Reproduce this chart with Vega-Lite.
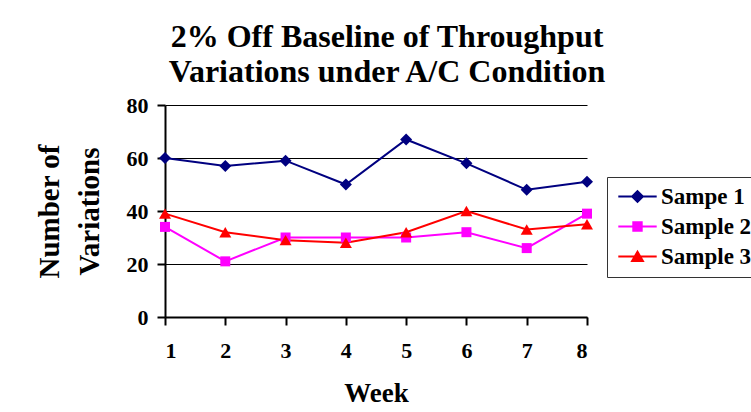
{
  "$schema": "https://vega.github.io/schema/vega-lite/v6.json",
  "width": 422,
  "height": 212,
  "autosize": {"type": "none"},
  "padding": {"left": 165, "top": 105, "right": 164, "bottom": 95},
  "background": "white",
  "title": {
    "text": ["2% Off Baseline of Throughput", "Variations under A/C Condition"],
    "font": "Liberation Serif",
    "fontSize": 32,
    "fontWeight": "bold",
    "color": "black",
    "lineHeight": 35,
    "anchor": "middle",
    "frame": "group",
    "dx": 11,
    "offset": 5
  },
  "config": {
    "view": {"stroke": null},
    "axis": {
      "labelFont": "Liberation Serif",
      "labelFontWeight": "bold",
      "labelColor": "black",
      "titleFont": "Liberation Serif",
      "titleFontWeight": "bold",
      "titleColor": "black",
      "domainColor": "black",
      "domainWidth": 2,
      "tickColor": "black",
      "tickWidth": 2,
      "tickSize": 8
    }
  },
  "data": {
    "values": [
      {"week": 1, "series": "Sampe 1", "count": 60},
      {"week": 2, "series": "Sampe 1", "count": 57},
      {"week": 3, "series": "Sampe 1", "count": 59},
      {"week": 4, "series": "Sampe 1", "count": 50},
      {"week": 5, "series": "Sampe 1", "count": 67},
      {"week": 6, "series": "Sampe 1", "count": 58},
      {"week": 7, "series": "Sampe 1", "count": 48},
      {"week": 8, "series": "Sampe 1", "count": 51},
      {"week": 1, "series": "Sample 2", "count": 34},
      {"week": 2, "series": "Sample 2", "count": 21},
      {"week": 3, "series": "Sample 2", "count": 30},
      {"week": 4, "series": "Sample 2", "count": 30},
      {"week": 5, "series": "Sample 2", "count": 30},
      {"week": 6, "series": "Sample 2", "count": 32},
      {"week": 7, "series": "Sample 2", "count": 26},
      {"week": 8, "series": "Sample 2", "count": 39},
      {"week": 1, "series": "Sample 3", "count": 39},
      {"week": 2, "series": "Sample 3", "count": 32},
      {"week": 3, "series": "Sample 3", "count": 29},
      {"week": 4, "series": "Sample 3", "count": 28},
      {"week": 5, "series": "Sample 3", "count": 32},
      {"week": 6, "series": "Sample 3", "count": 40},
      {"week": 7, "series": "Sample 3", "count": 33},
      {"week": 8, "series": "Sample 3", "count": 35}
    ]
  },
  "encoding": {
    "x": {
      "field": "week",
      "type": "quantitative",
      "scale": {"domain": [1, 8], "nice": false, "zero": false},
      "axis": {
        "values": [1, 2, 3, 4, 5, 6, 7, 8],
        "format": "d",
        "grid": false,
        "labelFontSize": 22,
        "labelPadding": 15,
        "title": "Week",
        "titleFontSize": 27,
        "titleBaseline": "alphabetic",
        "titleY": 84
      }
    },
    "y": {
      "field": "count",
      "type": "quantitative",
      "scale": {"domain": [0, 80], "nice": false},
      "axis": {
        "values": [0, 20, 40, 60, 80],
        "grid": true,
        "gridColor": "black",
        "gridWidth": 1,
        "labelFontSize": 22,
        "labelPadding": 9,
        "title": ["Number of", "Variations"],
        "titleFontSize": 29,
        "titleLineHeight": 40,
        "titleAngle": -90,
        "titleAlign": "center",
        "titleBaseline": "alphabetic",
        "titleX": -107,
        "titleY": 106
      }
    },
    "color": {
      "field": "series",
      "type": "nominal",
      "scale": {
        "domain": ["Sampe 1", "Sample 2", "Sample 3"],
        "range": ["#000080", "#FF00FF", "#FF0000"]
      },
      "legend": {
        "title": null,
        "orient": "none",
        "legendX": 442,
        "legendY": 72,
        "strokeColor": "#333333",
        "fillColor": "white",
        "padding": 8,
        "symbolSize": 144,
        "symbolOffset": 11,
        "symbolStrokeWidth": 2,
        "labelFont": "Liberation Serif",
        "labelFontSize": 23,
        "labelFontWeight": "bold",
        "labelColor": "black",
        "labelOffset": 12,
        "rowPadding": 6,
        "encode": {
          "symbols": {
            "update": {
              "shape": {"signal": "datum.value === 'Sampe 1' ? 'M-3.2,0H3.2M0,-0.9L0.9,0L0,0.9L-0.9,0Z' : datum.value === 'Sample 2' ? 'M-3.2,0H3.2M-0.7,-0.7H0.7V0.7H-0.7Z' : 'M-3.2,0H3.2M0,-0.8L0.9,0.75L-0.9,0.75Z'"},
              "fill": {"signal": "scale('color', datum.value)"},
              "stroke": {"signal": "scale('color', datum.value)"},
              "strokeWidth": {"value": 2},
              "opacity": {"value": 1}
            }
          }
        }
      }
    }
  },
  "layer": [
    {"mark": {"type": "line", "strokeWidth": 2}},
    {
      "transform": [{"filter": "datum.series === 'Sampe 1'"}],
      "mark": {"type": "point", "shape": "diamond", "size": 144, "filled": true, "opacity": 1}
    },
    {
      "transform": [{"filter": "datum.series === 'Sample 2'"}],
      "mark": {"type": "point", "shape": "square", "size": 100, "filled": true, "opacity": 1}
    },
    {
      "transform": [{"filter": "datum.series === 'Sample 3'"}],
      "mark": {"type": "point", "shape": "triangle-up", "size": 144, "filled": true, "opacity": 1}
    }
  ]
}
